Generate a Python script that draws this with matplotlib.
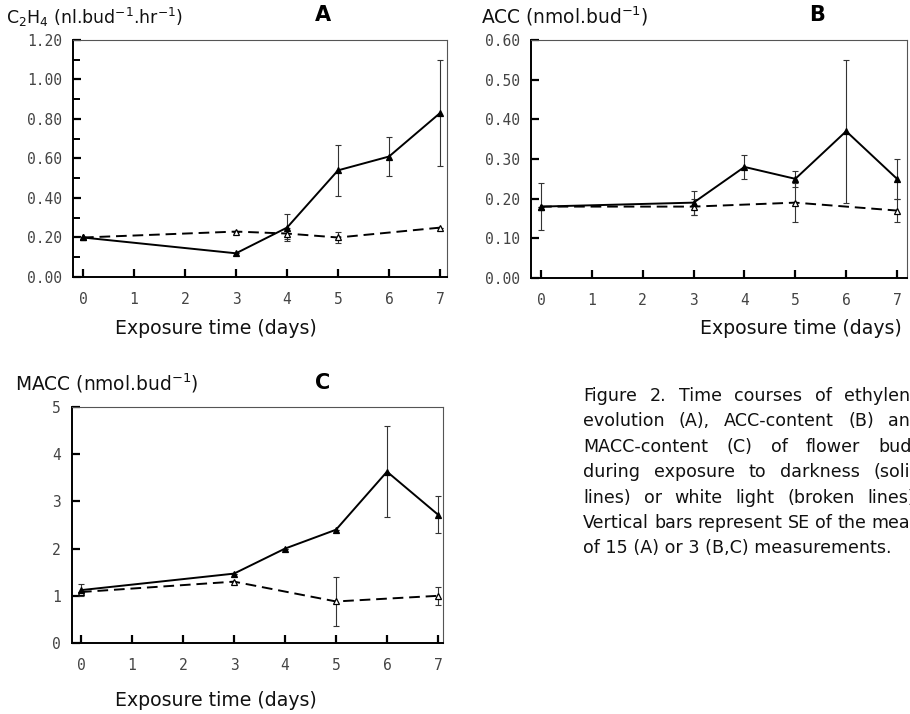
import matplotlib
matplotlib.use("Agg")
import matplotlib.pyplot as plt
from matplotlib.ticker import MultipleLocator, FormatStrFormatter

plt.rcParams['font.family'] = ['DejaVu Sans']
plt.rcParams['mathtext.fontset'] = 'dejavusans'

W, H = 910, 714

# ---------------- data ----------------
days = [0, 1, 2, 3, 4, 5, 6, 7]

# Panel A: C2H4 production
a_dark_x = [0, 3, 4, 5, 6, 7]
a_dark_y = [0.20, 0.12, 0.25, 0.54, 0.61, 0.83]
a_dark_err = [0.0, 0.0, 0.07, 0.13, 0.10, 0.27]
a_light_x = [0, 3, 4, 5, 7]
a_light_y = [0.20, 0.23, 0.22, 0.20, 0.25]
a_light_err = [0.0, 0.0, 0.03, 0.03, 0.0]

# Panel B: ACC content
b_dark_x = [0, 3, 4, 5, 6, 7]
b_dark_y = [0.18, 0.19, 0.28, 0.25, 0.37, 0.25]
b_dark_err = [0.06, 0.03, 0.03, 0.02, 0.18, 0.05]
b_light_x = [0, 3, 5, 7]
b_light_y = [0.18, 0.18, 0.19, 0.17]
b_light_err = [0.0, 0.02, 0.05, 0.03]

# Panel C: MACC content
c_dark_x = [0, 3, 4, 5, 6, 7]
c_dark_y = [1.12, 1.47, 2.00, 2.40, 3.63, 2.72]
c_dark_err = [0.13, 0.0, 0.0, 0.0, 0.96, 0.40]
c_light_x = [0, 3, 5, 7]
c_light_y = [1.08, 1.30, 0.88, 1.00]
c_light_err = [0.0, 0.0, 0.52, 0.19]

caption_lines = [
    "Figure 2. Time courses of ethylene",
    "evolution (A), ACC-content (B) and",
    "MACC-content (C) of flower buds",
    "during exposure to darkness (solid",
    "lines) or white light (broken lines).",
    "Vertical bars represent SE of the mean",
    "of 15 (A) or 3 (B,C) measurements.",
]

fig = plt.figure(figsize=(W / 100, H / 100), dpi=100)


def px_axes(l, r, t, b):
    return fig.add_axes([l / W, (H - b) / H, (r - l) / W, (b - t) / H])


tick_font = dict(family='DejaVu Sans Mono', size=10.5, color='#444444')


def style(ax, xlim, ylim, ymajor, fmt, yminor=None):
    ax.set_xlim(*xlim)
    ax.set_ylim(*ylim)
    ax.set_xticks(days)
    ax.yaxis.set_major_locator(MultipleLocator(ymajor))
    if yminor:
        ax.yaxis.set_minor_locator(MultipleLocator(yminor))
    ax.yaxis.set_major_formatter(FormatStrFormatter(fmt))
    ax.tick_params(axis='x', direction='in', length=6, width=1.6, pad=11)
    ax.tick_params(axis='y', which='major', direction='in', length=6, width=1.6, pad=8)
    ax.tick_params(axis='y', which='minor', direction='in', length=5, width=1.4)
    for lab in ax.get_xticklabels() + ax.get_yticklabels():
        lab.set_fontfamily(tick_font['family'])
        lab.set_fontsize(tick_font['size'])
        lab.set_color(tick_font['color'])
    for s in ['left', 'bottom']:
        ax.spines[s].set_linewidth(1.4)
    for s in ['top', 'right']:
        ax.spines[s].set_linewidth(0.8)
        ax.spines[s].set_color('#555555')


def series(ax, x, y, err, ls, mfc):
    ax.errorbar(x, y, yerr=err, fmt='none', ecolor='#333333', elinewidth=0.8,
                capsize=2.5, capthick=0.8, zorder=2)
    ax.plot(x, y, color='black', linestyle=ls, linewidth=1.4, marker='^',
            markersize=5, markerfacecolor=mfc, markeredgecolor='black',
            markeredgewidth=0.9, zorder=3)


dash = (0, (5.5, 3.0))

# Panel A
axA = px_axes(73, 447, 40, 277)
series(axA, a_light_x, a_light_y, a_light_err, dash, 'white')
series(axA, a_dark_x, a_dark_y, a_dark_err, '-', 'black')
style(axA, (-0.196, 7.137), (0, 1.2), 0.2, '%.2f', 0.1)

# Panel B
axB = px_axes(531, 907, 40, 278)
series(axB, b_light_x, b_light_y, b_light_err, dash, 'white')
series(axB, b_dark_x, b_dark_y, b_dark_err, '-', 'black')
style(axB, (-0.197, 7.196), (0, 0.6), 0.1, '%.2f')

# Panel C
axC = px_axes(72, 443, 407, 643)
series(axC, c_light_x, c_light_y, c_light_err, dash, 'white')
series(axC, c_dark_x, c_dark_y, c_dark_err, '-', 'black')
style(axC, (-0.176, 7.098), (0, 5), 1, '%d')


def ftext(x, y, s, **kw):
    return fig.text(x / W, 1 - y / H, s, **kw)


txt_color = '#111111'
ftext(6, 17, r"C$_2$H$_4$ (nl.bud$^{-1}$.hr$^{-1}$)", ha='left', va='center',
      fontsize=12.5, color=txt_color)
ftext(481, 16, r"ACC (nmol.bud$^{-1}$)", ha='left', va='center',
      fontsize=13.4, color=txt_color)
ftext(15, 383, r"MACC (nmol.bud$^{-1}$)", ha='left', va='center',
      fontsize=13.4, color=txt_color)
ftext(323, 15, "A", ha='center', va='center', fontsize=15, fontweight='bold')
ftext(817, 15, "B", ha='center', va='center', fontsize=15, fontweight='bold')
ftext(323, 383, "C", ha='center', va='center', fontsize=15, fontweight='bold')

xl_kw = dict(fontsize=13.6, va='center', color=txt_color)
ftext(216, 329, "Exposure time (days)", ha='center', **xl_kw)
ftext(902, 329, "Exposure time (days)", ha='right', **xl_kw)
ftext(216, 700, "Exposure time (days)", ha='center', **xl_kw)

# Caption (justified lines, running off the right edge as in the scan)
fig.canvas.draw()
renderer = fig.canvas.get_renderer()
cap_left, cap_right = 583, 921
cap_y0, cap_dy = 396, 25.4
cap_kw = dict(fontsize=12.6, va='center', ha='left', color=txt_color)
for i, line in enumerate(caption_lines):
    y = cap_y0 + i * cap_dy
    words = line.split(' ')
    if i == len(caption_lines) - 1:
        ftext(cap_left, y, line, **cap_kw)
        continue
    tw = []
    objs = []
    for w in words:
        t = fig.text(0, 0, w, **cap_kw)
        tw.append(t.get_window_extent(renderer).width)
        objs.append(t)
    gap = (cap_right - cap_left - sum(tw)) / (len(words) - 1)
    x = cap_left
    for t, w_ in zip(objs, tw):
        t.set_position((x / W, 1 - y / H))
        x += w_ + gap

fig.savefig("out.png", dpi=100)
